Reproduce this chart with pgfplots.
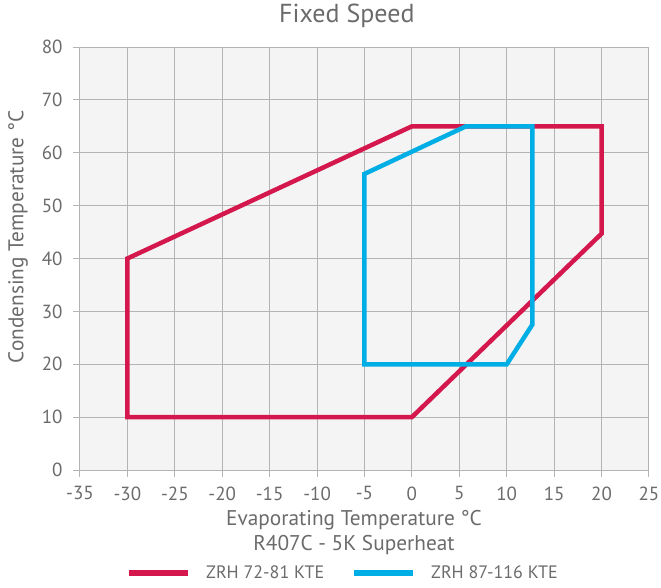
\documentclass[border=0pt]{standalone}
\usepackage{pgfplots}
\pgfplotsset{compat=1.18}
\usepackage{fontspec}
\setmainfont{PT Sans}
\definecolor{txt}{HTML}{6B6B6B}
\definecolor{gridc}{HTML}{B4B4B4}
\definecolor{bg}{HTML}{F4F4F4}
\definecolor{redc}{HTML}{D4174C}
\definecolor{bluec}{HTML}{00AEE6}
\begin{document}
\begin{tikzpicture}
\begin{axis}[
  scale only axis,
  width=569pt, height=423pt,
  xmin=-35, xmax=25, ymin=0, ymax=80,
  xtick={-35,-30,...,25}, ytick={0,10,...,80},
  xtick pos=bottom, ytick pos=left,
  tick align=outside, major tick length=7pt,
  tick style={gridc, line width=1pt},
  grid=major,
  grid style={gridc, line width=1pt},
  axis line style={gridc, line width=1pt},
  axis background/.style={fill=bg},
  /pgf/number format/assume math mode=true,
  ticklabel style={font=\fontsize{19}{22}\selectfont, text=txt},
  xticklabel style={yshift=-6pt},
  yticklabel style={xshift=-7pt},
  label style={font=\fontsize{21.3}{25}\selectfont, text=txt},
  xlabel={Evaporating Temperature °C\\R407C - 5K Superheat},
  xlabel style={align=center, at={(axis description cs:0.4815,0)}, anchor=center, yshift=-63pt},
  ylabel={Condensing Temperature °C},
  ylabel style={at={(axis description cs:-0.109,0.551)}, anchor=center},
  title={Fixed Speed},
  title style={font=\fontsize{26}{30}\selectfont, text=txt, at={(axis description cs:0.469,1)}, anchor=center, yshift=25pt},
  legend columns=2,
  legend style={at={(0.0756,-0.2435)}, anchor=west, draw=none, fill=none,
    font=\fontsize{18}{22}\selectfont, text=txt,
    /tikz/every even column/.append style={column sep=25pt}},
  legend image code/.code={\draw[#1, line width=5.5pt] (0pt,0pt) -- (59pt,0pt);\path (73pt,0pt);},
]
\addplot[redc, line width=4.5pt, line join=miter] coordinates {
  (-30,10) (-30,40) (0,65) (20,65) (20,44.7) (0,10) } -- cycle;
\addlegendentry{ZRH 72-81 KTE}
\addplot[bluec, line width=4.5pt, line join=miter] coordinates {
  (-5,20) (-5,56) (5.7,65) (12.7,65) (12.7,27.5) (10,20) } -- cycle;
\addlegendentry{ZRH 87-116 KTE}
\end{axis}
\pgfresetboundingbox
\path (current axis.south west) ++(-80pt,-117pt) rectangle ++(661pt,587pt);
\end{tikzpicture}
\end{document}
